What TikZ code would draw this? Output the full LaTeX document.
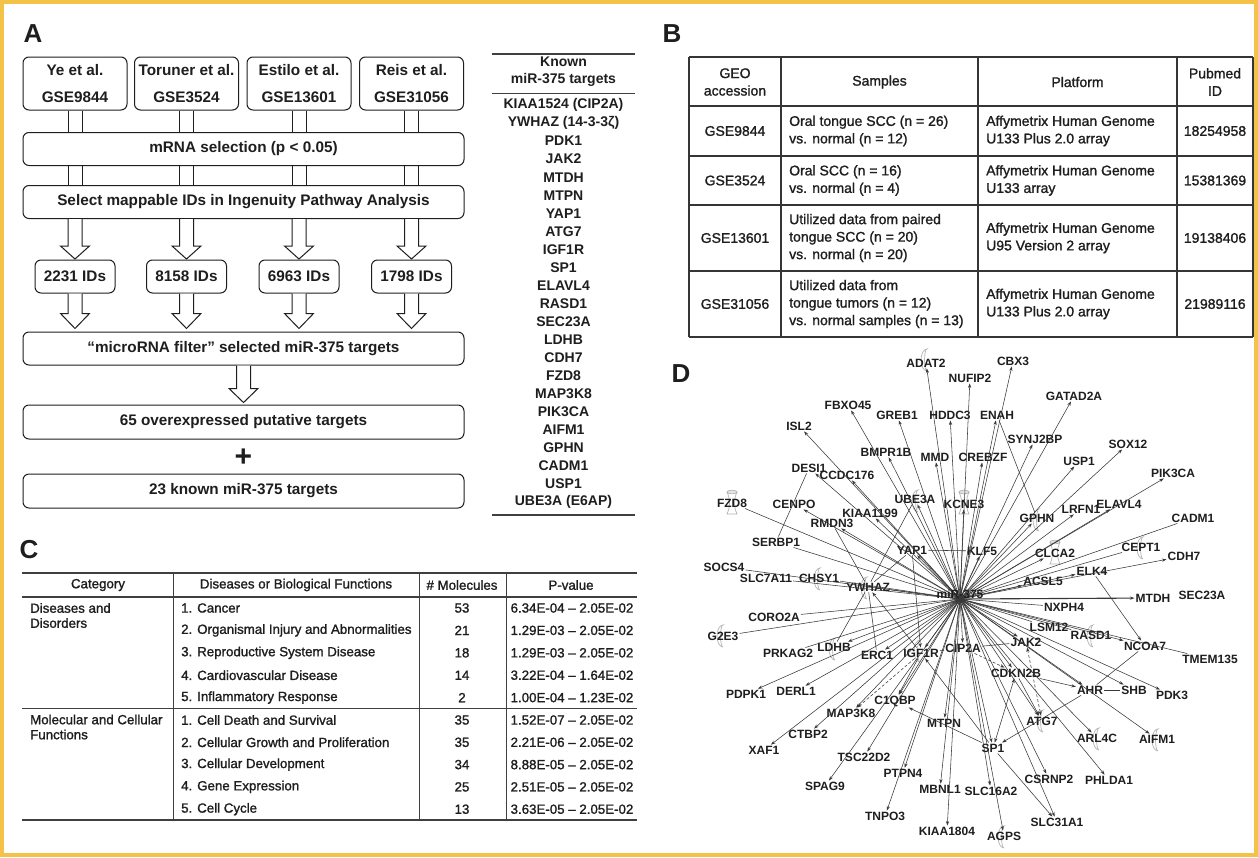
\documentclass[tikz,border=0pt]{standalone}
\usepackage{fontspec}
\setmainfont{Liberation Sans}
\newfontfamily\medf[FakeBold=1.3]{Liberation Sans}
\usetikzlibrary{arrows.meta}
\definecolor{ink}{HTML}{1E1E1E}
\definecolor{brd}{HTML}{F3C246}
\definecolor{edgec}{HTML}{383838}
\definecolor{iconc}{HTML}{B4B4B4}
\begin{document}
\begin{tikzpicture}[x=1pt,y=-1pt,
  ln/.style={draw=ink, line width=1pt},
  abox/.style={ln, rounded corners=6pt, inner sep=0pt, align=center, text=ink, font=\bfseries\fontsize{15.3}{27}\selectfont},
  topbox/.style={abox, minimum width=104pt, minimum height=53pt},
  widebox/.style={abox, minimum width=441pt, minimum height=33pt},
  idbox/.style={abox, minimum width=80pt, minimum height=33pt},
  plabel/.style={font=\bfseries\fontsize{26}{26}\selectfont, inner sep=0pt, text=ink},
  kn/.style={font=\bfseries\fontsize{14}{16}\selectfont, inner sep=0pt, text=ink},
  tb/.style={font=\medf\fontsize{14}{17.5}\selectfont, inner sep=0pt, text=ink, align=center},
  tbl/.style={tb, align=left, anchor=west},
  tc/.style={font=\medf\fontsize{13.3}{15}\selectfont, inner sep=0pt, text=ink},
  tcl/.style={tc, anchor=west, align=left},
  gn/.style={font=\bfseries\fontsize{12}{12}\selectfont, inner sep=1pt, text=ink},
  ea/.style={draw=edgec, line width=0.55pt, -{Stealth[length=4.5pt,width=3.2pt]}},
  eb/.style={draw=edgec, line width=0.55pt, {Stealth[length=4.5pt,width=3.2pt]}-{Stealth[length=4.5pt,width=3.2pt]}},
  en/.style={draw=edgec, line width=0.55pt},
  dsh/.style={dash pattern=on 3pt off 2pt},
  icon/.style={draw=iconc, line width=0.7pt},
  hollow/.style={ln, fill=white},
  rule/.style={draw=ink!85, line width=1.3pt},
  grid/.style={draw=ink!90, line width=1.2pt},
  pics/harrow/.style n args={2}{code={\draw[hollow] (-7,0) -- (-7,#1) -- (-14.5,#1) -- (0,#2) -- (14.5,#1) -- (7,#1) -- (7,0);}},
  pics/cres/.style={code={\draw[icon] (0,11) arc[start angle=90,end angle=270,x radius=6,y radius=11] arc[start angle=270,end angle=90,x radius=2.5,y radius=11];}},
  pics/hglass/.style={code={\draw[icon] (-5,-11) -- (5,-11) .. controls (1.5,-3) and (1.5,3) .. (5,11) -- (-5,11) .. controls (-1.5,3) and (-1.5,-3) .. (-5,-11); \draw[icon] (0,-11) ellipse[x radius=5,y radius=1.8];}}
]
\useasboundingbox (0,0) rectangle (1258,857);
\fill[white] (0,0) rectangle (1258,857);
\draw[draw=brd, line width=4pt] (2,2) rectangle (1256,855);

% ---------------- panel labels
\node[plabel] (labA) at (33,34) {A};
\node[plabel] (labB) at (672,34) {B};
\node[plabel] (labC) at (29,550) {C};
\node[plabel] (labD) at (681,374) {D};

% ---------------- panel A
\node[topbox] (ye)   at (75,83.5)    {Ye et al.\\GSE9844};
\node[topbox] (tor)  at (186.5,83.5) {Toruner et al.\\GSE3524};
\node[topbox] (est)  at (299,83.5)   {Estilo et al.\\GSE13601};
\node[topbox] (reis) at (411.5,83.5) {Reis et al.\\GSE31056};
\node[widebox] (mrna) at (243.5,149) {mRNA selection (p < 0.05)};
\node[widebox] (sel)  at (243.5,202) {Select mappable IDs in Ingenuity Pathway Analysis};
\foreach \b in {ye,tor,est,reis}{
  \draw[ln] ([xshift=-7pt]\b.south) -- ([xshift=-7pt]\b.south |- mrna.north);
  \draw[ln] ([xshift=7pt]\b.south) -- ([xshift=7pt]\b.south |- mrna.north);
  \draw[ln] ([xshift=-7pt]\b.south |- mrna.south) -- ([xshift=-7pt]\b.south |- sel.north);
  \draw[ln] ([xshift=7pt]\b.south |- mrna.south) -- ([xshift=7pt]\b.south |- sel.north);
  \pic at (\b.south |- sel.south) {harrow={27}{40}};
}
\node[idbox] (id1) at (75,276.5)    {2231 IDs};
\node[idbox] (id2) at (186.5,276.5) {8158 IDs};
\node[idbox] (id3) at (299,276.5)   {6963 IDs};
\node[idbox] (id4) at (411.5,276.5) {1798 IDs};
\node[widebox] (filt) at (243.5,348.5) {“microRNA filter” selected miR-375 targets};
\foreach \b in {id1,id2,id3,id4}{ \pic at (\b.south) {harrow={20}{35}}; }
\pic at (filt.south) {harrow={23}{37}};
\node[widebox, minimum height=34pt] (over) at (243.5,422) {65 overexpressed putative targets};
\node[font=\bfseries\fontsize{30}{30}\selectfont, inner sep=0pt, text=ink] (plus) at (243.5,458) {+};
\node[widebox, minimum height=34pt] (known) at (243.5,491) {23 known miR-375 targets};

% known list
\coordinate (kl) at (492,54);
\coordinate (kr) at (635,54);
\draw[rule] (kl) -- (kr);
\node[kn, align=center, font=\bfseries\fontsize{14}{16.5}\selectfont] (khead) at (563.5,71.5) {Known\\miR-375 targets};
\coordinate (kl2) at (492,93.5);
\coordinate (kr2) at (635,93.5);
\draw[rule] (kl2) -- (kr2);
\foreach \t [count=\i from 0] in {KIAA1524 (CIP2A),YWHAZ (14-3-3ζ),PDK1,JAK2,MTDH,MTPN,YAP1,ATG7,IGF1R,SP1,ELAVL4,RASD1,SEC23A,LDHB,CDH7,FZD8,MAP3K8,PIK3CA,AIFM1,GPHN,CADM1,USP1,UBE3A (E6AP)}{
  \node[kn] (k\i) at (563.5,{105+18.05*\i}) {\t};
}
\coordinate (kl3) at (492,515);
\coordinate (kr3) at (635,515);
\draw[rule] (kl3) -- (kr3);

% ---------------- panel B
\foreach \y in {57,106,156,205,271,337}{ \draw[grid] (689,\y) -- (1253,\y); }
\foreach \x in {689,781,978,1177,1253}{ \draw[grid] (\x,57) -- (\x,337); }
\node[tb] (bh1) at (735,82) {GEO\\accession};
\node[tb] (bh2) at (879.5,82) {Samples};
\node[tb] (bh3) at (1077.5,82) {Platform};
\node[tb] (bh4) at (1215,82) {Pubmed\\ID};
\node[tb] (b11) at (735,131) {GSE9844};
\node[tbl] (b12) at (789,131) {Oral tongue SCC (n = 26)\\vs. normal (n = 12)};
\node[tbl] (b13) at (986,131) {Affymetrix Human Genome\\U133 Plus 2.0 array};
\node[tb] (b14) at (1215,131) {18254958};
\node[tb] (b21) at (735,180.5) {GSE3524};
\node[tbl] (b22) at (789,180.5) {Oral SCC (n = 16)\\vs. normal (n = 4)};
\node[tbl] (b23) at (986,180.5) {Affymetrix Human Genome\\U133 array};
\node[tb] (b24) at (1215,180.5) {15381369};
\node[tb] (b31) at (735,238) {GSE13601};
\node[tbl] (b32) at (789,238) {Utilized data from paired\\tongue SCC (n = 20)\\vs. normal (n = 20)};
\node[tbl] (b33) at (986,238) {Affymetrix Human Genome\\U95 Version 2 array};
\node[tb] (b34) at (1215,238) {19138406};
\node[tb] (b41) at (735,304) {GSE31056};
\node[tbl] (b42) at (789,304) {Utilized data from\\tongue tumors (n = 12)\\vs. normal samples (n = 13)};
\node[tbl] (b43) at (986,304) {Affymetrix Human Genome\\U133 Plus 2.0 array};
\node[tb] (b44) at (1215,304) {21989116};

% ---------------- panel C
\draw[draw=ink!85, line width=1.8pt] (22,573) -- (637,573);
\draw[draw=ink!85, line width=1.4pt] (22,597) -- (637,597);
\draw[draw=ink!85, line width=1pt] (22,708) -- (637,708);
\draw[draw=ink!85, line width=1.8pt] (22,820) -- (637,820);
\foreach \x in {173,419,506}{ \draw[draw=ink!85, line width=1pt] (\x,573) -- (\x,820); }
\node[tc] (ch1) at (98,585) {Category};
\node[tc] (ch2) at (296,585) {Diseases or Biological Functions};
\node[tc] (ch3) at (462,585) {\# Molecules};
\node[tc] (ch4) at (571,585) {P-value};
\node[tcl] (cc1) at (30,615.5) {Diseases and\\Disorders};
\node[tcl] (cc2) at (30,727) {Molecular and Cellular\\Functions};
\foreach \f/\n/\p [count=\i from 0] in {
  1. Cancer/53/6.34E-04 – 2.05E-02,
  2. Organismal Injury and Abnormalities/21/1.29E-03 – 2.05E-02,
  3. Reproductive System Disease/18/1.29E-03 – 2.05E-02,
  4. Cardiovascular Disease/14/3.22E-04 – 1.64E-02,
  5. Inflammatory Response/2/1.00E-04 – 1.23E-02}{
  \node[tcl] (cf\i) at (181,{608+22.4*\i}) {\f};
  \node[tc] (cn\i) at (462,{608+22.4*\i}) {\n};
  \node[tc] (cp\i) at (572,{608+22.4*\i}) {\p};
}
\foreach \f/\n/\p [count=\i from 0] in {
  1. Cell Death and Survival/35/1.52E-07 – 2.05E-02,
  2. Cellular Growth and Proliferation/35/2.21E-06 – 2.05E-02,
  3. Cellular Development/34/8.88E-05 – 2.05E-02,
  4. Gene Expression/25/2.51E-05 – 2.05E-02,
  5. Cell Cycle/13/3.63E-05 – 2.05E-02}{
  \node[tcl] (mf\i) at (181,{720+22.3*\i}) {\f};
  \node[tc] (mn\i) at (462,{720+22.3*\i}) {\n};
  \node[tc] (mp\i) at (572,{720+22.3*\i}) {\p};
}

% ---------------- panel D
% icons
\foreach \x/\y in {927/360,918/501,867/588,820/579,723/636,835/649,920/651,1039/520,1143/548,1043/721,1099/739,1158/740,1004/837,1093/636}{
  \pic at (\x,\y) {cres};
}
\foreach \x/\y in {964/503,1055/553,732/503}{ \pic at (\x,\y) {hglass}; }

\foreach \n/\x/\y in {ADAT2/926/363, NUFIP2/970/378, CBX3/1013/361, FBXO45/848/405, GREB1/897/415, HDDC3/950/415, ENAH/997/415, GATAD2A/1074/396, ISL2/799/426, SYNJ2BP/1035/439, SOX12/1128/444, BMPR1B/886/452, MMD/935/457, CREBZF/983/457, USP1/1079/461, DESI1/809/468, CCDC176/847/475, PIK3CA/1173/473, UBE3A/915/499, KCNE3/964/504, FZD8/732/503, CENPO/794/504, ELAVL4/1119/504, LRFN1/1081/509, KIAA1199/870/513, GPHN/1037/518, CADM1/1193/518, RMDN3/832/523, SERBP1/776/542, CEPT1/1141/547, YAP1/912/550, KLF5/982/551, CLCA2/1055/553, CDH7/1184/556, SOCS4/724/567, ELK4/1092/571, SLC7A11/766/578, CHSY1/819/578, ACSL5/1043/581, YWHAZ/868/587, SEC23A/1202/595, MTDH/1153/598, NXPH4/1064/607, CORO2A/774/617, LSM12/1049/627, RASD1/1091/635, G2E3/723/636, JAK2/1026/642, NCOA7/1145/646, LDHB/834/647, CIP2A/963/648, PRKAG2/788/653, IGF1R/921/653, ERC1/877/655, TMEM135/1210/659, CDKN2B/1016/673, AHR/1090/690, SHB/1134/690, DERL1/796/691, PDPK1/746/694, PDK3/1172/695, C1QBP/895/701, MAP3K8/851/713, ATG7/1042/721, MTPN/944/723, CTBP2/808/734, ARL4C/1097/738, AIFM1/1157/739, SP1/993/748, XAF1/764/750, TSC22D2/864/757, PTPN4/903/773, CSRNP2/1049/779, PHLDA1/1109/780, SPAG9/825/786, MBNL1/940/789, SLC16A2/991/791, TNPO3/885/816, SLC31A1/1057/822, KIAA1804/947/831, AGPS/1004/836}{
  \node[gn] (\n) at (\x,\y) {\n};
}
\coordinate (hub) at (960,599);
\foreach \t in {ADAT2,NUFIP2,CBX3,FBXO45,GREB1,HDDC3,ENAH,GATAD2A,ISL2,SYNJ2BP,SOX12,BMPR1B,MMD,CREBZF,USP1,DESI1,CCDC176,PIK3CA,UBE3A,KCNE3,CENPO,ELAVL4,LRFN1,KIAA1199,GPHN,RMDN3,YAP1,KLF5,CLCA2,CDH7,ELK4,ACSL5,JAK2,NCOA7,LDHB,CIP2A,IGF1R,ERC1,CDKN2B,AHR,SHB,PDK3,DERL1,PDPK1,C1QBP,MAP3K8,ATG7,MTPN,CTBP2,ARL4C,AIFM1,SP1,XAF1,TSC22D2,PTPN4,CSRNP2,PHLDA1,SPAG9,MBNL1,SLC16A2,TNPO3,SLC31A1,KIAA1804,AGPS}{
  \draw[ea] (hub) -- (\t);
}
\draw[ea, line width=1.1pt] (hub) -- (MTDH);
\foreach \t in {FZD8,SERBP1,CEPT1,CADM1,SOCS4,SLC7A11,CHSY1,YWHAZ,NXPH4,CORO2A,LSM12,RASD1,G2E3,PRKAG2,TMEM135}{
  \draw[en] (hub) -- (\t);
}
\draw[en] (GPHN) -- (ENAH);
\draw[en] (DESI1) -- (SERBP1);
\draw[en] (YWHAZ) -- (UBE3A);
\draw[en] (YWHAZ) -- (RMDN3);
\draw[en] (YWHAZ) -- (YAP1);
\draw[en] (YAP1) -- (KLF5);
\draw[ea] (YAP1) -- (IGF1R);
\draw[en] (YWHAZ) -- (LDHB);
\draw[en] (YWHAZ) -- (ERC1);
\draw[ea] (IGF1R) -- (YWHAZ);
\draw[ea, dsh] (IGF1R) -- (MAP3K8);
\draw[ea] (IGF1R) -- (C1QBP);
\draw[ea] (SP1) -- (C1QBP);
\draw[ea] (SP1) -- (IGF1R);
\draw[en] (IGF1R) -- (CIP2A);
\draw[en] (CIP2A) -- (JAK2);
\draw[ea, dsh] (CIP2A) -- (CDKN2B);
\draw[eb, dsh] (JAK2) -- (ATG7);
\draw[ea] (CDKN2B) -- (ATG7);
\draw[ea] (CDKN2B) -- (AHR);
\draw[en] (AHR) -- (SHB);
\draw[ea] (AHR) -- (SP1);
\draw[en] (NCOA7) -- (AHR);
\draw[ea] (ELK4) -- (NCOA7);
\draw[eb] (SP1) -- (CDKN2B);
\draw[ea] (SP1) -- (SLC31A1);
\node[gn] (mir) at (960,594) {miR-375};
\end{tikzpicture}
\end{document}
